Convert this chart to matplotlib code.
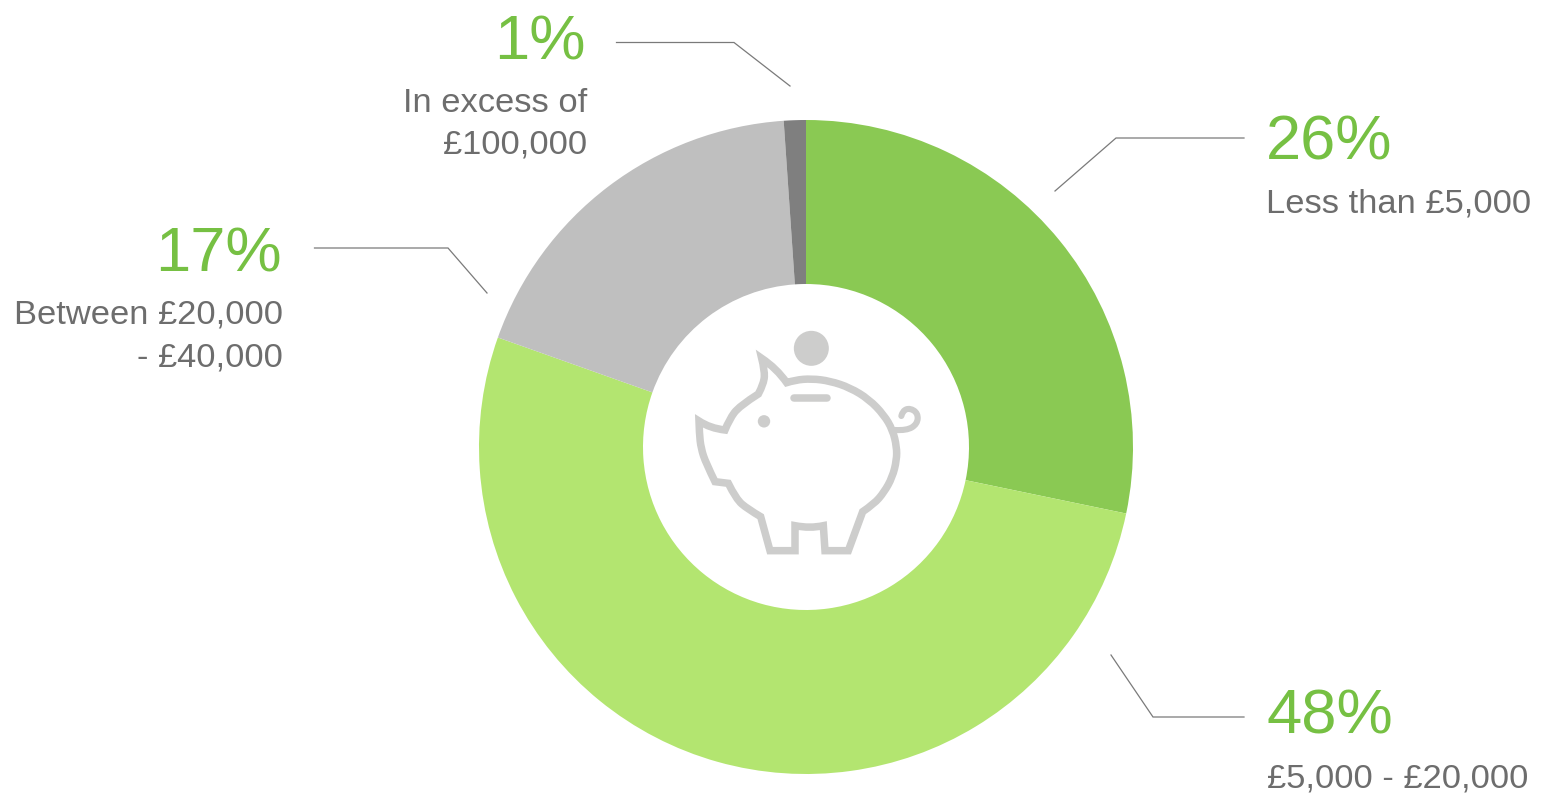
import matplotlib
matplotlib.use("Agg")  # no display
import matplotlib.pyplot as plt
from matplotlib.patches import Circle, PathPatch
from matplotlib.path import Path

percents = [26, 48, 17, 1]
categories = ["Less than £5,000", "£5,000 - £20,000", "Between £20,000\n- £40,000", "In excess of\n£100,000"]
slice_colors = ["#8ac953", "#b3e570", "#bfbfbf", "#7f7f7f"]

W, H = 1542, 795
GREEN = "#76c043"
GREY = "#6d6d6d"
PIG = "#cdcdcc"

plt.rcParams["font.family"] = ["Liberation Sans", "DejaVu Sans"]


def yy(y):
    # picture rows run downward, the axes upward
    return H - y


def pig_pt(p):
    return (680 + p[0] / 3, yy(320 + p[1] / 3))


def smooth_path(sections, closed=False):
    # each section is smoothed on its own, so the corners between sections stay sharp
    verts = [pig_pt(sections[0][0])]
    codes = [Path.MOVETO]
    for sec in sections:
        if len(sec) == 2:
            verts.append(pig_pt(sec[1]))
            codes.append(Path.LINETO)
            continue
        for i in range(1, len(sec) - 1):
            a = pig_pt(sec[i])
            if i < len(sec) - 2:
                b = pig_pt(sec[i + 1])
                end = ((a[0] + b[0]) / 2, (a[1] + b[1]) / 2)
            else:
                end = pig_pt(sec[-1])
            verts += [a, end]
            codes += [Path.CURVE3, Path.CURVE3]
    if closed:
        verts.append(verts[0])
        codes.append(Path.CLOSEPOLY)
    return Path(verts, codes)


fig = plt.figure(figsize=(W / 100, H / 100), dpi=100)
ax = fig.add_axes([0, 0, 1, 1])

ax.pie(percents, colors=slice_colors, startangle=90, counterclock=False,
       center=(806, yy(447)), radius=327, frame=True,
       wedgeprops={"width": 164, "linewidth": 0})
ax.set_xlim(0, W)
ax.set_ylim(0, H)
ax.set_aspect("equal")
ax.axis("off")

# leader lines
leaders = [
    [(1244, 138), (1116, 138), (1055, 191)],
    [(1244, 717), (1153, 717), (1111, 655)],
    [(314.5, 248), (448, 248), (487, 293)],
    [(616.5, 42.5), (734, 42.5), (790, 86)],
]
for pts in leaders:
    ax.plot([p[0] for p in pts], [yy(p[1]) for p in pts], color="#7a7a7a", lw=0.9,
            solid_joinstyle="miter")

# text anchors: x, big baseline, first label baseline, line step, alignment
anchors = [
    (1266, 160, 212.5, 42, "left"),
    (1267, 734, 788, 42, "left"),
    (282, 271, 323.5, 43, "right"),
    (586, 59, 112, 42, "right"),
]
for pct, cat, (x, y_big, y_lab, step, ha) in zip(percents, categories, anchors):
    ax.text(x, yy(y_big), f"{pct}%", color=GREEN, fontsize=45.5, ha=ha, va="baseline")
    for i, line in enumerate(cat.split("\n")):
        ax.text(x + (1 if ha == "right" else 0), yy(y_lab + i * step), line, color=GREY,
                fontsize=24.8, ha=ha, va="baseline")

# piggy bank icon
body = [
    [(245, 115), (290, 145), (320, 188)],
    [(320, 188), (345, 180), (395, 176), (450, 183), (510, 203), (567, 238), (612, 285),
     (638, 330), (650, 380), (650, 420), (637, 472), (612, 517), (582, 552), (548, 575)],
    [(548, 575), (505, 692)],
    [(505, 692), (435, 692)],
    [(435, 692), (430, 617)],
    [(430, 617), (390, 626), (345, 617)],
    [(345, 617), (345, 692)],
    [(345, 692), (270, 692)],
    [(270, 692), (242, 590)],
    [(242, 590), (203, 567), (168, 537), (145, 490)],
    [(145, 490), (105, 485)],
    [(105, 485), (78, 430), (63, 385), (58, 340), (57, 303)],
    [(57, 303), (90, 325), (135, 330)],
    [(135, 330), (148, 298), (178, 258), (235, 222)],
    [(235, 222), (252, 190), (254, 150), (245, 115)],
]
tail = [(645, 330), (680, 332), (712, 312), (714, 280), (690, 264), (668, 272), (664, 288)]
slot = [(342, 234), (442, 234)]

ax.add_patch(PathPatch(smooth_path(body, closed=True), fill=False, edgecolor=PIG, lw=5.4,
                       joinstyle="miter"))
ax.add_patch(PathPatch(smooth_path([tail]), fill=False, edgecolor=PIG, lw=4.4,
                       capstyle="round", joinstyle="round"))
sx = [pig_pt(p)[0] for p in slot]
sy = [pig_pt(p)[1] for p in slot]
ax.plot(sx, sy, color=PIG, lw=5.4, solid_capstyle="round")

ax.add_patch(Circle(pig_pt((252, 304)), 6.2, color=PIG, lw=0))
ax.add_patch(Circle(pig_pt((394, 85)), 17.5, color=PIG, lw=0))

fig.savefig("out.png", dpi=100)
